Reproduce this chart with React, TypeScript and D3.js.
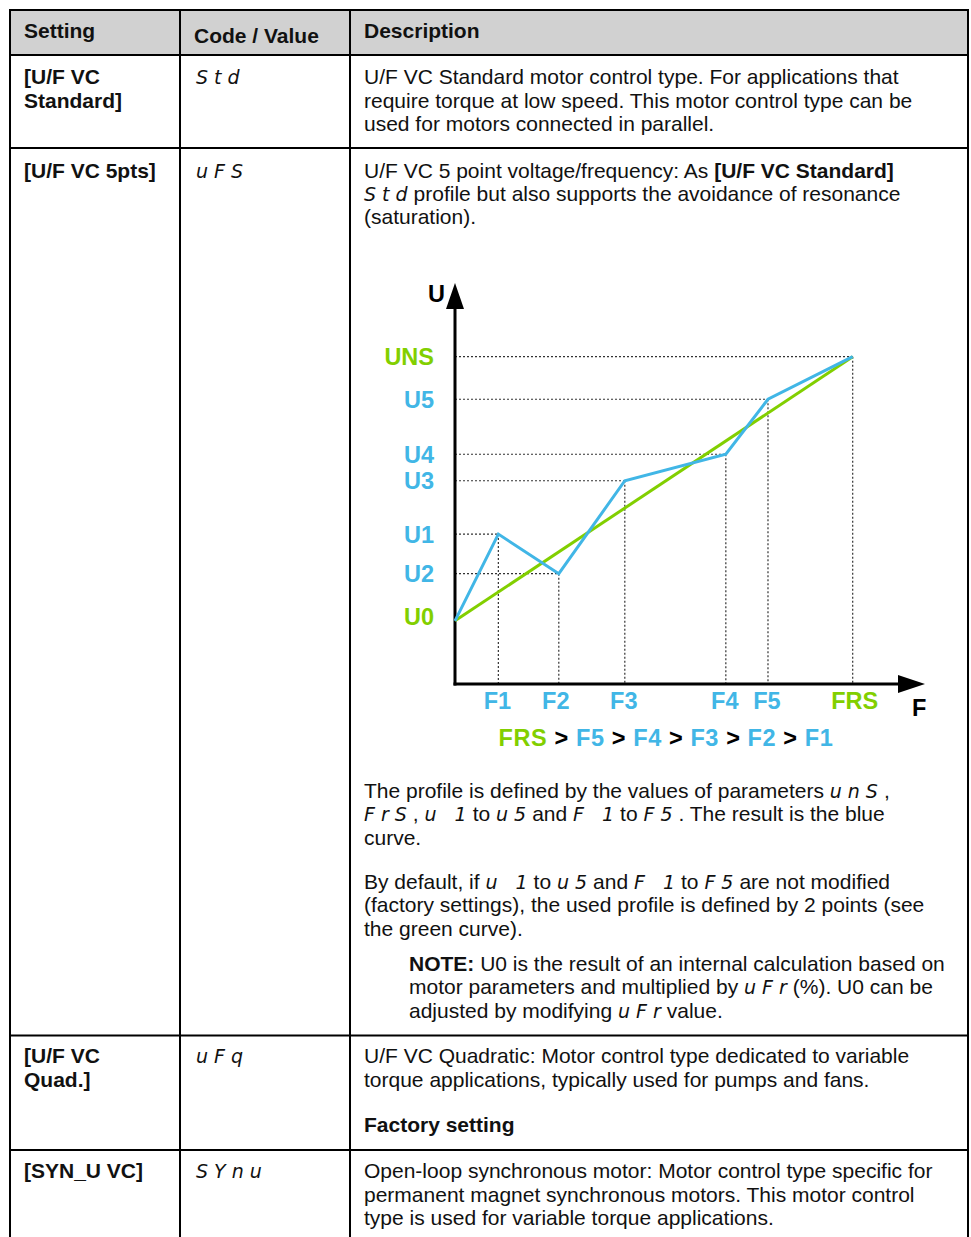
import React from "react";
import * as d3 from "d3";

// ---------- data ----------
const freqNames = ["F1", "F2", "F3", "F4", "F5", "FRS"];
const freqValues = [10.9, 26.1, 42.7, 68.1, 78.7, 100];
const voltNames = ["U0", "U1", "U2", "U3", "U4", "U5", "UNS"];
const voltValues = [19.3, 45.8, 33.7, 62.1, 70.2, 87.0, 100];
// blue (5 points) profile: U0 -> (F1,U1) ... (F5,U5) -> (FRS,UNS)
const blueF = [0, 10.9, 26.1, 42.7, 68.1, 78.7, 100];
const blueU = [19.3, 45.8, 33.7, 62.1, 70.2, 87.0, 100];
// green (2 points) profile
const greenF = [0, 100];
const greenU = [19.3, 100];
const orderLabels = ["FRS", "F5", "F4", "F3", "F2", "F1"];

const BLUE = "#41b6e6";
const GREEN = "#82cf00";
const FONT = "'Liberation Sans', Arial, sans-serif";
const FS = 21;
const CFS = 23.5;

type Seg = { t: string; b?: boolean; c?: boolean };

function Line({ x, y, segs, size = FS }: { x: number; y: number; segs: Seg[]; size?: number }) {
  return (
    <text x={x} y={y} fontFamily={FONT} fontSize={size} fill="#111">
      {segs.map((s, i) =>
        s.c ? (
          <tspan key={i} fontFamily="'DejaVu Sans', sans-serif" fontStyle="italic" fontSize={19} letterSpacing={6}>
            {s.t}
          </tspan>
        ) : (
          <tspan key={i} fontWeight={s.b ? "bold" : "normal"}>
            {s.t}
          </tspan>
        )
      )}
    </text>
  );
}

const P = (t: string): Seg => ({ t });
const B = (t: string): Seg => ({ t, b: true });
const C = (t: string): Seg => ({ t, c: true });

export default function App() {
  const W = 971;
  const H = 1237;
  const x = d3.scaleLinear().domain([0, 100]).range([455, 852.7]);
  const y = d3.scaleLinear().domain([0, 100]).range([684, 356.7]);
  const line = d3
    .line<[number, number]>()
    .x((d) => x(d[0]))
    .y((d) => y(d[1]));
  const bluePts = blueF.map((f, i) => [f, blueU[i]] as [number, number]);
  const greenPts = greenF.map((f, i) => [f, greenU[i]] as [number, number]);

  const x0 = x(0);
  const y0 = y(0);
  const axisTop = 283;
  const axisRight = 925;

  const guidePts: [number, number][] = freqValues.map((f, i) => [f, blueU[i + 1]]);

  const tableL = 10,
    tableR = 968,
    col1 = 180,
    col2 = 350;
  const rowLines = [10, 55, 148, 1035.5, 1150];

  const colX = [24, 196, 364];

  return (
    <svg width={W} height={H} style={{ position: "absolute", left: 0, top: 0, background: "#fff" }}>
      <rect x={tableL} y={10} width={tableR - tableL} height={45} fill="#d1d1d1" />
      {rowLines.map((ry, i) => (
        <line key={i} x1={tableL} x2={tableR} y1={ry} y2={ry} stroke="#000" strokeWidth={2} />
      ))}
      {[tableL, col1, col2, tableR].map((cx, i) => (
        <line key={i} x1={cx} x2={cx} y1={9} y2={H} stroke="#000" strokeWidth={2} />
      ))}

      {/* header */}
      <Line x={colX[0]} y={38} segs={[B("Setting")]} />
      <Line x={colX[1] - 2} y={43} segs={[B("Code / Value")]} />
      <Line x={colX[2]} y={38} segs={[B("Description")]} />

      {/* row 1 */}
      <Line x={colX[0]} y={84} segs={[B("[U/F VC")]} />
      <Line x={colX[0]} y={108} segs={[B("Standard]")]} />
      <Line x={colX[1]} y={84} segs={[C("Std")]} />
      <Line x={colX[2]} y={84} segs={[P("U/F VC Standard motor control type. For applications that")]} />
      <Line x={colX[2]} y={108} segs={[P("require torque at low speed. This motor control type can be")]} />
      <Line x={colX[2]} y={131} segs={[P("used for motors connected in parallel.")]} />

      {/* row 2 */}
      <Line x={colX[0]} y={178} segs={[B("[U/F VC 5pts]")]} />
      <Line x={colX[1]} y={178} segs={[C("uFS")]} />
      <Line x={colX[2]} y={178} segs={[P("U/F VC 5 point voltage/frequency: As "), B("[U/F VC Standard]")]} />
      <Line x={colX[2]} y={201} segs={[C("Std"), P("profile but also supports the avoidance of resonance")]} />
      <Line x={colX[2]} y={224} segs={[P("(saturation).")]} />

      {/* chart */}
      <g>
        {guidePts.map((p, i) => (
          <g key={i}>
            <line x1={x0} x2={x(p[0])} y1={y(p[1])} y2={y(p[1])} stroke="#333" strokeWidth={1.2} strokeDasharray="2,2" />
            <line x1={x(p[0])} x2={x(p[0])} y1={y(p[1])} y2={y0} stroke="#333" strokeWidth={1.2} strokeDasharray="2,2" />
          </g>
        ))}
        <line x1={x0} x2={x0} y1={y0 + 1.5} y2={axisTop + 20} stroke="#000" strokeWidth={3} />
        <line x1={x0 - 1.5} x2={axisRight - 20} y1={y0} y2={y0} stroke="#000" strokeWidth={3} />
        <path d={`M${x0},${axisTop} L${x0 - 9},${axisTop + 26} L${x0 + 9},${axisTop + 26} Z`} fill="#000" />
        <path d={`M${axisRight},${y0} L${axisRight - 27},${y0 - 9} L${axisRight - 27},${y0 + 9} Z`} fill="#000" />
        <text x={445} y={302} textAnchor="end" fontFamily={FONT} fontWeight="bold" fontSize={CFS} fill="#000">U</text>
        <text x={912} y={716} fontFamily={FONT} fontWeight="bold" fontSize={CFS} fill="#000">F</text>

        <path d={line(greenPts) || ""} fill="none" stroke={GREEN} strokeWidth={3} />
        <path d={line(bluePts) || ""} fill="none" stroke={BLUE} strokeWidth={3} strokeLinejoin="miter" />

        {voltNames.map((n, i) => (
          <text
            key={n}
            x={434}
            y={y(voltValues[i]) + 8.5 - (n === "U0" ? 4 : 0)}
            textAnchor="end"
            fontFamily={FONT}
            fontWeight="bold"
            fontSize={CFS}
            fill={n === "U0" || n === "UNS" ? GREEN : BLUE}
          >
            {n}
          </text>
        ))}
        {freqNames.map((n, i) => (
          <text
            key={n}
            x={x(freqValues[i]) + (n === "FRS" ? 2 : n === "F2" ? -3 : -1)}
            y={709}
            textAnchor="middle"
            fontFamily={FONT}
            fontWeight="bold"
            fontSize={CFS}
            fill={n === "FRS" ? GREEN : BLUE}
          >
            {n}
          </text>
        ))}
        <text x={666} y={746} textAnchor="middle" fontFamily={FONT} fontWeight="bold" fontSize={CFS} letterSpacing={0.6}>
          {orderLabels.map((n, i) => (
            <React.Fragment key={n}>
              {i > 0 && <tspan fill="#000">{" > "}</tspan>}
              <tspan fill={n === "FRS" ? GREEN : BLUE}>{n}</tspan>
            </React.Fragment>
          ))}
        </text>
      </g>

      <Line x={colX[2]} y={798} segs={[P("The profile is defined by the values of parameters "), C("unS"), P(",")]} />
      <Line
        x={colX[2]}
        y={821}
        segs={[C("FrS"), P(", "), C("u 1"), P("to "), C("u5"), P("and "), C("F 1"), P("to "), C("F5"), P(". The result is the blue")]}
      />
      <Line x={colX[2]} y={845} segs={[P("curve.")]} />

      <Line
        x={colX[2]}
        y={889}
        segs={[P("By default, if "), C("u 1"), P("to "), C("u5"), P("and "), C("F 1"), P("to "), C("F5"), P("are not modified")]}
      />
      <Line x={colX[2]} y={912} segs={[P("(factory settings), the used profile is defined by 2 points (see")]} />
      <Line x={colX[2]} y={936} segs={[P("the green curve).")]} />

      <Line x={409} y={971} segs={[B("NOTE:"), P(" U0 is the result of an internal calculation based on")]} />
      <Line x={409} y={994} segs={[P("motor parameters and multiplied by "), C("uFr"), P("(%). U0 can be")]} />
      <Line x={409} y={1018} segs={[P("adjusted by modifying "), C("uFr"), P("value.")]} />

      {/* row 3 */}
      <Line x={colX[0]} y={1063} segs={[B("[U/F VC")]} />
      <Line x={colX[0]} y={1087} segs={[B("Quad.]")]} />
      <Line x={colX[1]} y={1063} segs={[C("uFq")]} />
      <Line x={colX[2]} y={1063} segs={[P("U/F VC Quadratic: Motor control type dedicated to variable")]} />
      <Line x={colX[2]} y={1087} segs={[P("torque applications, typically used for pumps and fans.")]} />
      <Line x={colX[2]} y={1132} segs={[B("Factory setting")]} />

      {/* row 4 */}
      <Line x={colX[0]} y={1178} segs={[B("[SYN_U VC]")]} />
      <Line x={colX[1]} y={1178} segs={[C("SYnu")]} />
      <Line x={colX[2]} y={1178} segs={[P("Open-loop synchronous motor: Motor control type specific for")]} />
      <Line x={colX[2]} y={1202} segs={[P("permanent magnet synchronous motors. This motor control")]} />
      <Line x={colX[2]} y={1225} segs={[P("type is used for variable torque applications.")]} />
    </svg>
  );
}
